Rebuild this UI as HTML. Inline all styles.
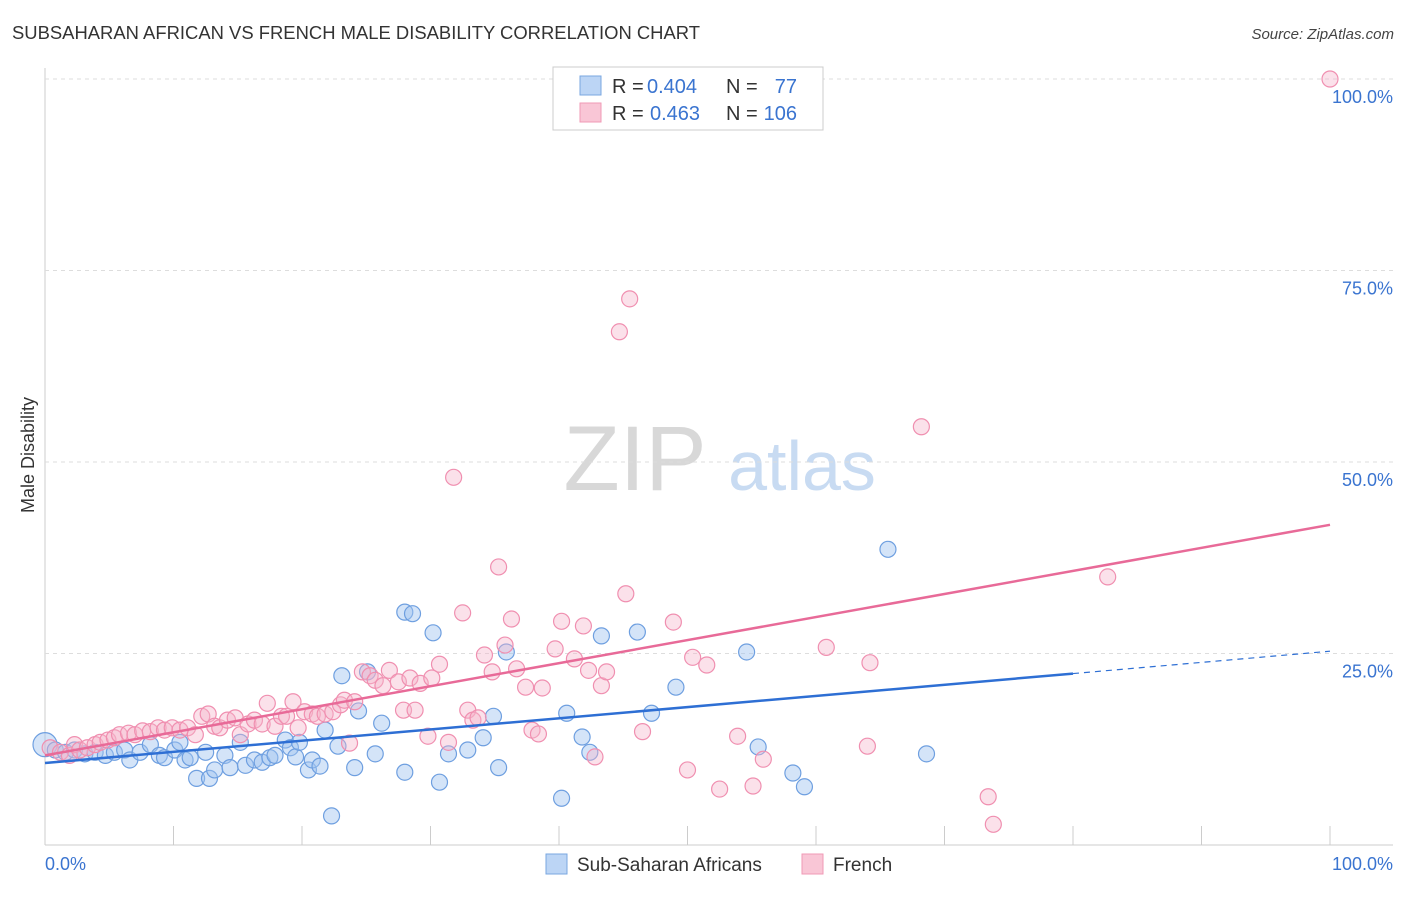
<!DOCTYPE html>
<html><head><meta charset="utf-8">
<style>
body{margin:0;background:#fff;font-family:"Liberation Sans",sans-serif;}
svg text{font-family:"Liberation Sans",sans-serif;}
</style></head>
<body>
<svg id="chart" width="1406" height="892" viewBox="0 0 1406 892" xmlns="http://www.w3.org/2000/svg">
<text x="12" y="39" font-size="18" fill="#333" textLength="688" lengthAdjust="spacingAndGlyphs">SUBSAHARAN AFRICAN VS FRENCH MALE DISABILITY CORRELATION CHART</text>
<text x="1394" y="39" font-size="15" fill="#444" text-anchor="end" font-style="italic">Source: ZipAtlas.com</text>
<text x="635" y="490" font-size="92" fill="#d8d8d8" font-family="Liberation Serif" text-anchor="middle">ZIP</text>
<text x="802" y="490" font-size="70" fill="#c8dbf2" text-anchor="middle">atlas</text>
<text transform="translate(34,455) rotate(-90)" font-size="18" fill="#333" text-anchor="middle">Male Disability</text>
<g id="grid"></g>
<g id="series"></g>
<g>
<rect x="553" y="67" width="270" height="63" fill="#fff" stroke="#ccc"/>
<rect x="580" y="76" width="21" height="19" fill="#bcd5f5" stroke="#7aa7e0"/>
<rect x="580" y="103" width="21" height="19" fill="#f9c6d6" stroke="#f09ab6"/>
<text x="612" y="93" font-size="20" fill="#333">R =</text>
<text x="647" y="93" font-size="20" fill="#3a74d0">0.404</text>
<text x="726" y="93" font-size="20" fill="#333">N =</text>
<text x="797" y="93" font-size="20" fill="#3a74d0" text-anchor="end">77</text>
<text x="612" y="120" font-size="20" fill="#333">R =</text>
<text x="650" y="120" font-size="20" fill="#3a74d0">0.463</text>
<text x="726" y="120" font-size="20" fill="#333">N =</text>
<text x="797" y="120" font-size="20" fill="#3a74d0" text-anchor="end">106</text>
</g>
<g>
<rect x="546" y="854" width="21" height="20" fill="#bcd5f5" stroke="#7aa7e0"/>
<text x="577" y="871" font-size="19" fill="#333">Sub-Saharan Africans</text>
<rect x="802" y="854" width="21" height="20" fill="#f9c6d6" stroke="#f09ab6"/>
<text x="833" y="871" font-size="19" fill="#333">French</text>
</g>
</svg>
<script>
const yTicks=[25,50,75,100];
const yTickLabels=["25.0%","50.0%","75.0%","100.0%"];
const xTicks=[0,10,20,30,40,50,60,70,80,90,100];
const blueX=[0,0.8,1.6,2.3,3.1,3.9,4.7,5.4,6.2,6.6,7.4,8.2,8.9,9.3,10.1,10.5,10.9,11.3,11.8,12.5,12.8,13.2,14.0,14.4,15.2,15.6,16.3,16.9,17.5,17.9,18.7,19.1,19.5,19.8,20.5,20.8,21.4,21.8,22.3,22.8,23.1,24.1,24.4,25.1,25.7,26.2,28.0,28.0,28.6,30.2,30.7,31.4,32.9,34.1,34.9,35.3,35.9,40.2,40.6,41.8,42.4,43.3,46.1,47.2,49.1,54.6,55.5,58.2,59.1,65.6,68.6];
const blueY=[13.1,12.4,12.1,12.4,11.9,12.1,11.7,12.1,12.4,11.1,12.1,13.1,11.7,11.4,12.4,13.4,11.1,11.4,8.7,12.1,8.7,9.8,11.7,10.1,13.4,10.4,11.1,10.8,11.4,11.7,13.7,12.7,11.5,13.4,9.8,11.1,10.3,15.0,3.8,12.9,22.1,10.1,17.5,22.6,11.9,15.9,9.5,30.4,30.2,27.7,8.2,11.9,12.4,14.0,16.8,10.1,25.2,6.1,17.2,14.1,12.1,27.3,27.8,17.2,20.6,25.2,12.8,9.4,7.6,38.6,11.9];
const pinkX=[0.4,1.2,1.9,2.3,2.7,3.3,3.9,4.3,4.9,5.4,5.8,6.5,7.0,7.6,8.2,8.8,9.3,9.9,10.5,11.1,11.7,12.2,12.7,13.2,13.6,14.2,14.8,15.2,15.8,16.3,16.9,17.3,17.9,18.4,18.8,19.3,19.7,20.2,20.8,21.2,21.8,22.4,23.0,23.3,23.7,24.1,24.7,25.3,25.7,26.3,26.8,27.5,27.9,28.4,28.8,29.2,29.8,30.1,30.7,31.4,31.8,32.5,32.9,33.3,33.7,34.2,34.8,35.3,35.8,36.3,36.7,37.4,37.9,38.4,38.7,39.7,40.2,41.2,41.9,42.3,42.8,43.3,43.7,44.7,45.2,45.5,46.5,48.9,50.0,50.4,51.5,52.5,53.9,55.1,55.9,60.8,64.0,64.2,68.2,73.4,73.8,82.7,100];
const pinkY=[12.7,12.1,11.7,13.1,12.4,12.7,13.1,13.4,13.7,14.0,14.4,14.6,14.4,14.9,14.8,15.3,15.0,15.3,15.0,15.3,14.4,16.8,17.1,15.5,15.3,16.3,16.6,14.4,15.8,16.3,15.8,18.5,15.5,16.8,16.8,18.7,15.3,17.4,17.1,16.8,17.1,17.4,18.3,18.9,13.3,18.7,22.6,22.1,21.5,20.8,22.8,21.3,17.6,21.8,17.6,21.1,14.2,21.8,23.6,13.4,48.0,30.3,17.6,16.3,16.6,24.8,22.6,36.3,26.1,29.5,23.0,20.6,15.0,14.5,20.5,25.6,29.2,24.3,28.6,22.8,11.5,20.8,22.6,67.0,32.8,71.3,14.8,29.1,9.8,24.5,23.5,7.3,14.2,7.7,11.2,25.8,12.9,23.8,54.6,6.3,2.7,35.0,100];
const blueTrend=[10.7,25.3];
const pinkTrend=[11.7,41.8];
const NS="http://www.w3.org/2000/svg";
const X0=45,X1=1330,Y0=845,Y100=79;
const sx=v=>X0+(X1-X0)*v/100;
const sy=v=>Y0-(Y0-Y100)*v/100;
function mk(tag,attrs,parent){const e=document.createElementNS(NS,tag);for(const k in attrs)e.setAttribute(k,attrs[k]);parent.appendChild(e);return e;}
const grid=document.getElementById('grid');
const ser=document.getElementById('series');
const ax=mk('line',{x1:X0,y1:68,x2:X0,y2:Y0,stroke:'#ccc'},grid);


const bx=mk('line',{x1:X0,y1:Y0,x2:1393,y2:Y0,stroke:'#ccc'},grid);


yTicks.forEach((t,i)=>{
 const g=mk('line',{x1:X0,y1:sy(t),x2:1393,y2:sy(t),stroke:'#ddd','stroke-dasharray':'4,4'},grid);
 
 
 const l=mk('text',{x:1393,y:sy(t)+24,'font-size':18,fill:'#3a74d0','text-anchor':'end'},grid);
 l.textContent=yTickLabels[i];
 
 
});
xTicks.forEach(t=>{
 const k=mk('line',{x1:sx(t),y1:826,x2:sx(t),y2:Y0,stroke:'#ccc'},grid);
 
 
});
const xl0=mk('text',{x:45,y:870,'font-size':18,fill:'#3a74d0'},grid);xl0.textContent='0.0%';


const xl1=mk('text',{x:1393,y:870,'font-size':18,fill:'#3a74d0','text-anchor':'end'},grid);xl1.textContent='100.0%';


blueX.forEach((v,i)=>{
 const c=mk('circle',{cx:sx(v),cy:sy(blueY[i]),r:i===0?12:8,fill:'rgba(160,196,240,0.45)',stroke:'#6e9fe0','stroke-width':1.2},ser);
 
 
});
pinkX.forEach((v,i)=>{
 const c=mk('circle',{cx:sx(v),cy:sy(pinkY[i]),r:8,fill:'rgba(246,180,202,0.4)',stroke:'#f08fb0','stroke-width':1.2},ser);
 
 
});
const bAt=v=>blueTrend[0]+(blueTrend[1]-blueTrend[0])*v/100;
const b1=mk('line',{x1:sx(0),y1:sy(bAt(0)),x2:sx(80),y2:sy(bAt(80)),stroke:'#2e6fd4','stroke-width':2.5},ser);


const b2=mk('line',{x1:sx(80),y1:sy(bAt(80)),x2:sx(100),y2:sy(bAt(100)),stroke:'#2e6fd4','stroke-width':1.2,'stroke-dasharray':'6,5'},ser);


const p1=mk('line',{x1:sx(0),y1:sy(pinkTrend[0]),x2:sx(100),y2:sy(pinkTrend[1]),stroke:'#e86a98','stroke-width':2.5},ser);


</script>
</body></html>
